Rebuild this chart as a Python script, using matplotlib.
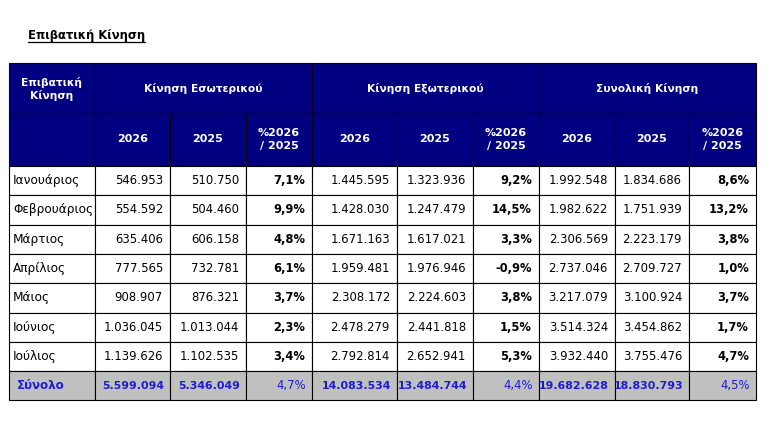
import matplotlib.pyplot as plt
from matplotlib.patches import Rectangle

plt.rcParams["font.family"] = ["DejaVu Sans"]

# =============================================================================
# DATA
# =============================================================================
title = "Επιβατική Κίνηση"
corner_label = "Επιβατική\nΚίνηση"
groups = ["Κίνηση Εσωτερικού", "Κίνηση Εξωτερικού", "Συνολική Κίνηση"]
sub_headers = ["2026", "2025", "%2026\n/ 2025"]

months = [
    "Ιανουάριος", "Φεβρουάριος", "Μάρτιος", "Απρίλιος",
    "Μάιος", "Ιούνιος", "Ιούλιος",
]
dom_2026 = ["546.953", "554.592", "635.406", "777.565", "908.907", "1.036.045", "1.139.626"]
dom_2025 = ["510.750", "504.460", "606.158", "732.781", "876.321", "1.013.044", "1.102.535"]
dom_pct = ["7,1%", "9,9%", "4,8%", "6,1%", "3,7%", "2,3%", "3,4%"]
int_2026 = ["1.445.595", "1.428.030", "1.671.163", "1.959.481", "2.308.172", "2.478.279", "2.792.814"]
int_2025 = ["1.323.936", "1.247.479", "1.617.021", "1.976.946", "2.224.603", "2.441.818", "2.652.941"]
int_pct = ["9,2%", "14,5%", "3,3%", "-0,9%", "3,8%", "1,5%", "5,3%"]
tot_2026 = ["1.992.548", "1.982.622", "2.306.569", "2.737.046", "3.217.079", "3.514.324", "3.932.440"]
tot_2025 = ["1.834.686", "1.751.939", "2.223.179", "2.709.727", "3.100.924", "3.454.862", "3.755.476"]
tot_pct = ["8,6%", "13,2%", "3,8%", "1,0%", "3,7%", "1,7%", "4,7%"]

total_label = "Σύνολο"
total_row = [
    "5.599.094", "5.346.049", "4,7%",
    "14.083.534", "13.484.744", "4,4%",
    "19.682.628", "18.830.793", "4,5%",
]

# =============================================================================
# LAYOUT (pixels)
# =============================================================================
col_edges = [9, 95, 170, 246, 312, 397, 473, 539, 615, 689, 756]
head1_top, head1_bot, head2_bot = 63, 113, 166
row_h = 29.3

NAVY = "#000080"
GRAY = "#c0c0c0"
BLUE = "#1c1cd0"
FS = 8.4        # regular numbers
FS_LABEL = 8.7  # month names
FS_BOLD = 7.7   # bold header text

fig = plt.figure(figsize=(7.78, 4.21), dpi=100)
ax = fig.add_axes([0, 0, 1, 1])
ax.set_xlim(0, 778)
ax.set_ylim(421, 0)
ax.axis("off")


def cell(x0, x1, y0, y1, face):
    ax.add_patch(Rectangle((x0, y0), x1 - x0, y1 - y0, facecolor=face,
                           edgecolor="black", linewidth=0.8))


# Title
ax.text(28, 35, title, fontsize=8.4, fontweight="bold", va="center", ha="left")
ax.plot([28, 145], [42, 42], color="black", lw=0.9)

# Header row 1
cell(col_edges[0], col_edges[1], head1_top, head1_bot, NAVY)
ax.text((col_edges[0] + col_edges[1]) / 2, (head1_top + head1_bot) / 2 + 1,
        corner_label, color="white", fontsize=FS_BOLD, fontweight="bold",
        ha="center", va="center", linespacing=1.3)
for g, name in enumerate(groups):
    x0, x1 = col_edges[1 + 3 * g], col_edges[4 + 3 * g]
    cell(x0, x1, head1_top, head1_bot, NAVY)
    ax.text((x0 + x1) / 2, (head1_top + head1_bot) / 2, name, color="white",
            fontsize=FS_BOLD, fontweight="bold", ha="center", va="center")

# Header row 2
cell(col_edges[0], col_edges[1], head1_bot, head2_bot, NAVY)
for c in range(9):
    x0, x1 = col_edges[1 + c], col_edges[2 + c]
    cell(x0, x1, head1_bot, head2_bot, NAVY)
    ax.text((x0 + x1) / 2, (head1_bot + head2_bot) / 2, sub_headers[c % 3],
            color="white", fontsize=FS_BOLD + 0.3, fontweight="bold",
            ha="center", va="center", linespacing=1.3)

# Body rows
columns = [dom_2026, dom_2025, dom_pct, int_2026, int_2025, int_pct,
           tot_2026, tot_2025, tot_pct]
for r, month in enumerate(months):
    y0 = head2_bot + r * row_h
    y1 = y0 + row_h
    yc = (y0 + y1) / 2
    cell(col_edges[0], col_edges[1], y0, y1, "white")
    ax.text(col_edges[0] + 4, yc, month, fontsize=FS_LABEL, ha="left",
            va="center")
    for c, values in enumerate(columns):
        x0, x1 = col_edges[1 + c], col_edges[2 + c]
        cell(x0, x1, y0, y1, "white")
        is_pct = c % 3 == 2
        ax.text(x1 - 7, yc, values[r], ha="right", va="center",
                fontsize=FS_BOLD + 0.6 if is_pct else FS,
                fontweight="bold" if is_pct else "normal")

# Total row
y0 = head2_bot + len(months) * row_h
y1 = y0 + row_h
yc = (y0 + y1) / 2
cell(col_edges[0], col_edges[1], y0, y1, GRAY)
ax.text(col_edges[0] + 8, yc, total_label, fontsize=8.6,
        ha="left", va="center", color=BLUE, fontweight="bold")
for c, val in enumerate(total_row):
    x0, x1 = col_edges[1 + c], col_edges[2 + c]
    cell(x0, x1, y0, y1, GRAY)
    is_pct = c % 3 == 2
    ax.text(x1 - 6, yc, val, ha="right", va="center", color=BLUE,
            fontsize=FS if is_pct else 7.95,
            fontweight="normal" if is_pct else "bold")

fig.savefig("out.png", dpi=100)
